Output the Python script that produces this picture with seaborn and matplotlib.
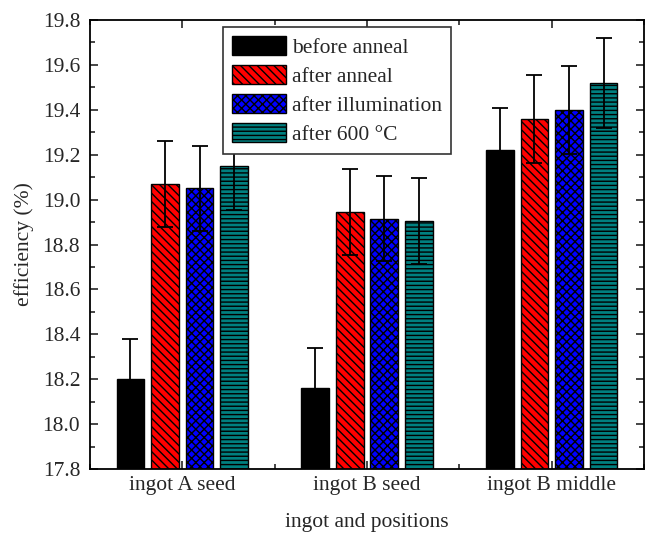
import numpy as np
import pandas as pd
import matplotlib
matplotlib.use("Agg")
import matplotlib.pyplot as plt
from matplotlib.ticker import MultipleLocator, FormatStrFormatter
import seaborn as sns

positions = ["ingot A seed", "ingot B seed", "ingot B middle"]
conditions = ["before anneal", "after anneal", "after illumination", "after 600 °C"]
before_anneal = [18.20, 18.16, 19.22]
after_anneal = [19.07, 18.945, 19.36]
after_illum = [19.05, 18.915, 19.40]
after_600 = [19.15, 18.905, 19.52]
err_before = [0.18, 0.18, 0.19]
err_anneal = [0.19, 0.19, 0.195]
err_illum = [0.19, 0.19, 0.195]
err_600 = [0.195, 0.19, 0.20]

colors = ["#000000", "#ff0000", "#0000ff", "#008080"]
hatches = ["", "\\\\\\\\", "xxxx", "----"]

values = [before_anneal, after_anneal, after_illum, after_600]
errors = [err_before, err_anneal, err_illum, err_600]
rows = []
for cond, vals in zip(conditions, values):
    for pos, v in zip(positions, vals):
        rows.append({"position": pos, "condition": cond, "efficiency": v})
df = pd.DataFrame(rows)

sns.set_theme(style="ticks")
plt.rcParams["font.family"] = ["Liberation Serif", "DejaVu Serif"]
plt.rcParams["hatch.linewidth"] = 1.0
fs = 15.5

fig = plt.figure(figsize=(6.45, 5.34), dpi=100)
ax = fig.add_axes([90 / 645, 65 / 534, 554 / 645, 449 / 534])

sns.barplot(data=df, x="position", y="efficiency", hue="condition",
            order=positions, hue_order=conditions, palette=colors,
            saturation=1, width=0.75, gap=0.2, errorbar=None, legend=False,
            edgecolor="black", linewidth=1.0, ax=ax)

# hatches + error bars per series
for cont, h, err in zip(ax.containers, hatches, errors):
    xs, ys = [], []
    for p in cont.patches:
        p.set_hatch(h)
        p.set_edgecolor("black")
        xs.append(p.get_x() + p.get_width() / 2)
        ys.append(p.get_y() + p.get_height())
    ax.errorbar(xs, ys, yerr=err, fmt="none", ecolor="black",
                elinewidth=1.3, capsize=6, capthick=1.3, zorder=5)

ax.legend(ax.containers, conditions, loc="upper left",
          bbox_to_anchor=(0.24, 0.985), fontsize=fs, frameon=True,
          fancybox=False, edgecolor="#333333", framealpha=1,
          handlelength=2.5, handleheight=1.0, labelspacing=0.33,
          handletextpad=0.3, borderpad=0.42, borderaxespad=0)
ax.get_legend().get_frame().set_linewidth(1.2)

ax.set_ylim(17.8, 19.8)
ax.set_xlim(-0.5, 2.5)
ax.yaxis.set_major_locator(MultipleLocator(0.2))
ax.yaxis.set_minor_locator(MultipleLocator(0.1))
ax.yaxis.set_major_formatter(FormatStrFormatter("%.1f"))
ax.xaxis.set_minor_locator(MultipleLocator(0.5))
ax.tick_params(which="both", direction="in", top=True, right=True, width=1.2)
ax.tick_params(which="major", length=6, labelsize=fs)
ax.tick_params(axis="y", which="major", pad=7)
ax.tick_params(axis="x", which="major", pad=5)
ax.tick_params(which="minor", length=3.5)
for s in ax.spines.values():
    s.set_linewidth(1.3)
    s.set_color("black")

ax.set_xlabel("ingot and positions", fontsize=fs, labelpad=13)
ax.set_ylabel("efficiency (%)", fontsize=fs, labelpad=6)

fig.savefig("out.png", dpi=100)
